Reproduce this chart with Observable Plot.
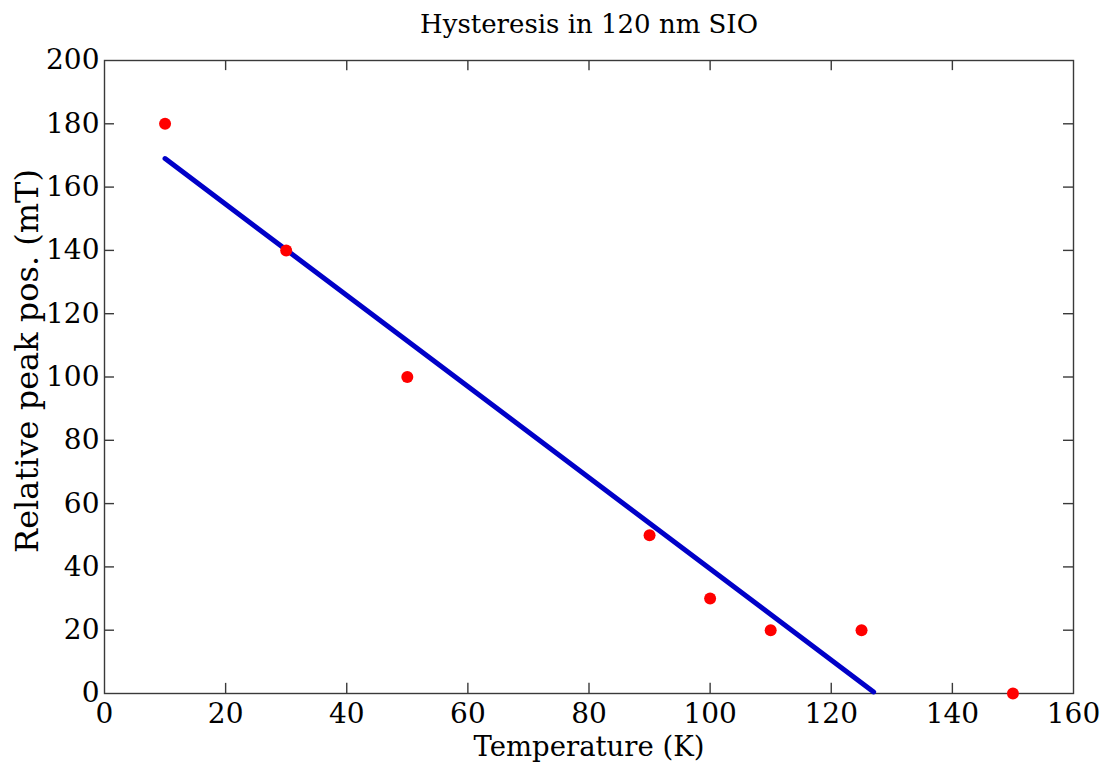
<!DOCTYPE html>
<html>
<head>
<meta charset="utf-8">
<script src="https://cdn.jsdelivr.net/npm/d3@7"></script>
<script src="https://cdn.jsdelivr.net/npm/@observablehq/plot@0.6"></script>
<style>
  html, body { margin: 0; padding: 0; background: #fff; }
  #chart { width: 1105px; height: 770px; }
</style>
</head>
<body>
<div id="chart"></div>
<script>
const title = "Hysteresis in 120 nm SIO";
const xLabel = "Temperature (K)";
const yLabel = "Relative peak pos. (mT)";

const temperature = [10, 30, 50, 90, 100, 110, 125, 150];
const peakPos = [180, 140, 100, 50, 30, 20, 20, 0];

const fitTemperature = [10, 127];
const fitPeakPos = [169, 0.5];

const xTicks = [0, 20, 40, 60, 80, 100, 120, 140, 160];
const yTicks = [0, 20, 40, 60, 80, 100, 120, 140, 160, 180, 200];

const points = temperature.map((t, i) => ({t, p: peakPos[i]}));
const fit = fitTemperature.map((t, i) => ({t, p: fitPeakPos[i]}));

const font = "'DejaVu Serif', serif";
const axisColor = "#3a3a3a";

const chart = Plot.plot({
  width: 1105,
  height: 770,
  marginLeft: 104,
  marginRight: 32,
  marginTop: 60,
  marginBottom: 77,
  style: {fontFamily: font, fontSize: "28px", color: "#000", background: "#fff"},
  x: {domain: [0, 160], ticks: xTicks},
  y: {domain: [0, 200], ticks: yTicks},
  marks: [
    Plot.axisX(xTicks, {anchor: "bottom", tickSize: 0, tickPadding: 10, label: null, fontSize: 28}),
    Plot.axisY(yTicks, {anchor: "left", tickSize: 0, tickPadding: 5, label: null, fontSize: 28}),
    Plot.ruleX(xTicks.slice(1, -1), {y1: 0, y2: 3.2, stroke: axisColor, strokeWidth: 1.4}),
    Plot.ruleX(xTicks.slice(1, -1), {y1: 200, y2: 196.8, stroke: axisColor, strokeWidth: 1.4}),
    Plot.ruleY(yTicks.slice(1, -1), {x1: 0, x2: 1.65, stroke: axisColor, strokeWidth: 1.4}),
    Plot.ruleY(yTicks.slice(1, -1), {x1: 160, x2: 158.35, stroke: axisColor, strokeWidth: 1.4}),
    Plot.frame({stroke: axisColor, strokeWidth: 1.4}),
    Plot.line(fit, {x: "t", y: "p", stroke: "#0000c8", strokeWidth: 5}),
    Plot.dot(points, {x: "t", y: "p", r: 6, fill: "#f00", stroke: "none"}),
    Plot.text([title], {frameAnchor: "top", lineAnchor: "middle", dy: -36, text: d => d, fontSize: 26, fill: "#000"}),
    Plot.text([xLabel], {frameAnchor: "bottom", lineAnchor: "middle", dy: 54, text: d => d, fontSize: 27.5, fill: "#000"}),
    Plot.text([yLabel], {frameAnchor: "left", textAnchor: "middle", lineAnchor: "middle", dx: -77, dy: -16, rotate: -90, text: d => d, fontSize: 32, fill: "#000"})
  ]
});
document.getElementById("chart").appendChild(chart);
</script>
</body>
</html>
